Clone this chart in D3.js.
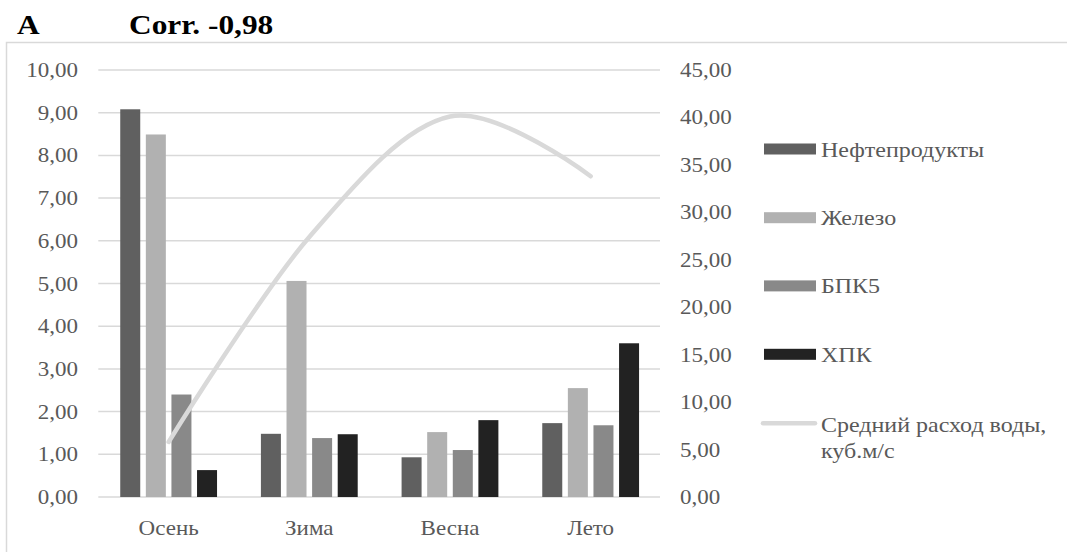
<!DOCTYPE html>
<html><head><meta charset="utf-8">
<script src="https://cdn.jsdelivr.net/npm/d3@7"></script>
<style>body{margin:0;background:#fff;} svg{display:block;}</style>
</head><body>
<script>
const categories = ["Осень","Зима","Весна","Лето"];
const seriesNames = ["Нефтепродукты","Железо","БПК5","ХПК"];
const neft = [9.08, 1.48, 0.93, 1.73];
const zhelezo = [8.49, 5.06, 1.52, 2.55];
const bpk5 = [2.40, 1.38, 1.10, 1.68];
const hpk = [0.63, 1.47, 1.80, 3.60];
const flow = [5.8, 27.4, 40.1, 33.8];
const flowName = ["Средний расход воды,", "куб.м/с"];
const leftTicks = [0,1,2,3,4,5,6,7,8,9,10];
const rightTicks = [0,5,10,15,20,25,30,35,40,45];
const colors = ["#606060","#b1b1b1","#898989","#222222"];
const lineColor = "#d9d9d9";

const W = 1067, H = 552;
const svg = d3.select("body").append("svg").attr("width", W).attr("height", H);
const font = "'Liberation Serif','Times New Roman',serif";
const SX = 1.15;
const txt = (x, y, s, opts={}) => {
  const t = svg.append("text").attr("transform", `translate(${x},${y}) scale(${opts.sx || SX},1)`)
    .attr("font-family", font).attr("font-size", opts.size || 20)
    .attr("fill", opts.fill || "#595959").attr("text-anchor", opts.anchor || "start")
    .attr("font-weight", opts.weight || "normal").text(s);
  return t;
};

// border
svg.append("path").attr("d", `M${W},42.5 H6.5 V${H}`).attr("fill","none").attr("stroke","#d9d9d9").attr("stroke-width",1.5);

// titles
txt(17, 34, "A", {size: 28, weight: "bold", fill: "#000", sx: 1.12});
txt(129, 34, "Corr. -0,98", {size: 28, weight: "bold", fill: "#000", sx: 1.12});

const x0 = 98.3, x1 = 661, yTop = 70, yBot = 497;
const x = d3.scaleBand().domain(categories).range([x0, x1]).paddingInner(0).paddingOuter(0);
const yL = d3.scaleLinear().domain([0,10]).range([yBot, yTop]);
const yR = d3.scaleLinear().domain([0,45]).range([yBot, yTop]);

// gridlines
svg.append("g").selectAll("line").data(leftTicks).join("line")
  .attr("x1", x0).attr("x2", 660).attr("y1", d => yL(d)).attr("y2", d => yL(d))
  .attr("stroke", "#d9d9d9").attr("stroke-width", 1.5);

// left axis labels
leftTicks.forEach(d => txt(78, yL(d) + 7, d3.format(".2f")(d).replace(".", ","), {anchor: "end"}));
// right axis labels
rightTicks.forEach(d => txt(680, yR(d) + 7, d3.format(".2f")(d).replace(".", ","), {anchor: "start"}));

// bars
const allSeries = [neft, zhelezo, bpk5, hpk];
const barW = 20, step = 25.6;
const xs = d3.scaleBand().domain(seriesNames).range([0, step*4]).paddingInner(0);
allSeries.forEach((vals, si) => {
  svg.append("g").selectAll("rect").data(vals).join("rect")
    .attr("x", (d, i) => x(categories[i]) + x.bandwidth()/2 - (step*4 - (step - barW))/2 + xs(seriesNames[si]))
    .attr("y", d => yL(d)).attr("width", barW).attr("height", d => yBot - yL(d))
    .attr("fill", colors[si]);
});

// category labels
categories.forEach(c => txt(x(c) + x.bandwidth()/2, 535, c, {anchor: "middle"}));

// flow line
const line = d3.line().x((d, i) => x(categories[i]) + x.bandwidth()/2).y(d => yR(d)).curve(d3.curveCardinal.tension(0));
svg.append("path").datum(flow).attr("d", line).attr("fill", "none")
  .attr("stroke", lineColor).attr("stroke-width", 4.5).attr("stroke-linecap", "round");

// legend
const legY = [149, 217.7, 285.9, 354.3];
seriesNames.forEach((n, i) => {
  svg.append("rect").attr("x", 764).attr("y", legY[i] - 5.5).attr("width", 52).attr("height", 11).attr("fill", colors[i]);
  txt(821, legY[i] + 7.5, n, {sx: 1.2});
});
svg.append("line").attr("x1", 763).attr("x2", 815).attr("y1", 423.3).attr("y2", 423.3)
  .attr("stroke", lineColor).attr("stroke-width", 4.5).attr("stroke-linecap", "round");
txt(821, 431.5, flowName[0], {sx: 1.2});
txt(821, 458, flowName[1], {sx: 1.2});
</script>
</body></html>
